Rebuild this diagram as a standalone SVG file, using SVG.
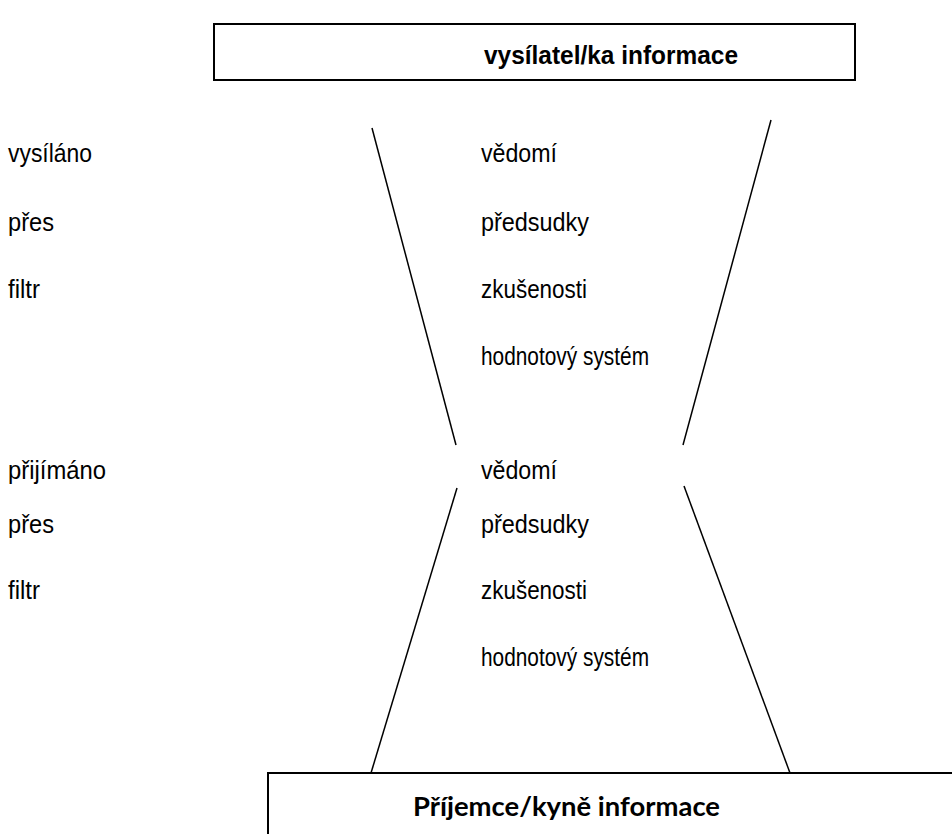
<svg xmlns="http://www.w3.org/2000/svg" width="952" height="834" viewBox="0 0 952 834">
<style>
.t{font-family:"Liberation Sans Narrow","Liberation Sans",Arial,sans-serif;font-size:26px;fill:#000}
.b{font-weight:bold}
.box{fill:#fff;stroke:#000;stroke-width:2}
.ln{stroke:#000;stroke-width:1.5;fill:none}
</style>
<rect width="952" height="834" fill="#fff"/>
<g id="connectors">
<line class="ln" x1="372" y1="128" x2="456" y2="445"/>
<line class="ln" x1="771" y1="120" x2="683" y2="445"/>
<line class="ln" x1="457" y1="488" x2="371" y2="773"/>
<line class="ln" x1="684" y1="486" x2="790" y2="773"/>
</g>
<g id="sender">
<rect class="box" x="214" y="24" width="641" height="56"/>
<text class="t b" x="484" y="64" textLength="254" lengthAdjust="spacingAndGlyphs">vysílatel/ka informace</text>
</g>
<g id="receiver">
<rect class="box" x="268" y="773" width="700" height="80"/>
<text x="413" y="816" font-family="Lato,'Open Sans',sans-serif" font-weight="bold" font-size="27.5" textLength="307" lengthAdjust="spacingAndGlyphs">Příjemce/kyně informace</text>
</g>
<g id="sent-labels">
<text class="t" x="8" y="162" textLength="84" lengthAdjust="spacingAndGlyphs">vysíláno</text>
<text class="t" x="8" y="231" textLength="46" lengthAdjust="spacingAndGlyphs">přes</text>
<text class="t" x="8" y="298" textLength="32" lengthAdjust="spacingAndGlyphs">filtr</text>
</g>
<g id="sent-filter">
<text class="t" x="481" y="162" textLength="76" lengthAdjust="spacingAndGlyphs">vědomí</text>
<text class="t" x="481" y="231" textLength="108" lengthAdjust="spacingAndGlyphs">předsudky</text>
<text class="t" x="481" y="298" textLength="106" lengthAdjust="spacingAndGlyphs">zkušenosti</text>
<text class="t" x="481" y="365" textLength="168" lengthAdjust="spacingAndGlyphs">hodnotový systém</text>
</g>
<g id="received-labels">
<text class="t" x="8" y="479" textLength="98" lengthAdjust="spacingAndGlyphs">přijímáno</text>
<text class="t" x="8" y="533" textLength="46" lengthAdjust="spacingAndGlyphs">přes</text>
<text class="t" x="8" y="599" textLength="32" lengthAdjust="spacingAndGlyphs">filtr</text>
</g>
<g id="received-filter">
<text class="t" x="481" y="479" textLength="76" lengthAdjust="spacingAndGlyphs">vědomí</text>
<text class="t" x="481" y="533" textLength="108" lengthAdjust="spacingAndGlyphs">předsudky</text>
<text class="t" x="481" y="599" textLength="106" lengthAdjust="spacingAndGlyphs">zkušenosti</text>
<text class="t" x="481" y="666" textLength="168" lengthAdjust="spacingAndGlyphs">hodnotový systém</text>
</g>
</svg>
